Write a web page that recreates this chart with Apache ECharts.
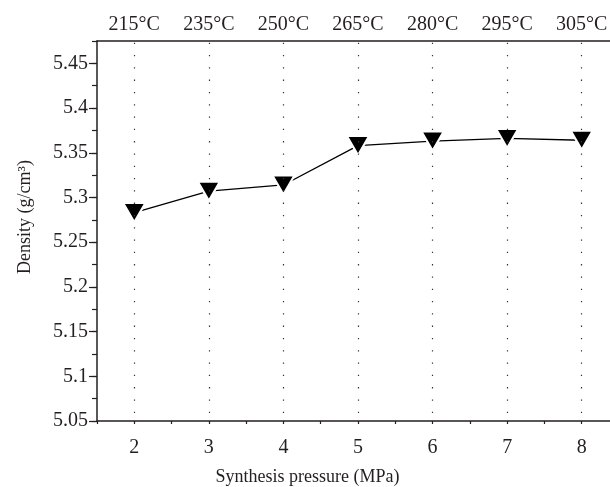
<!DOCTYPE html>
<html lang="en">
<head>
<meta charset="UTF-8">
<title>Density vs synthesis pressure</title>
<script src="https://cdn.jsdelivr.net/npm/echarts@6/dist/echarts.min.js"></script>
<style>
  html, body { margin: 0; padding: 0; background: #fff; }
  #main { width: 610px; height: 487px; }
</style>
</head>
<body>
<div id="main"></div>
<script>
// data
var pressures = [2, 3, 4, 5, 6, 7, 8];
var temperatures = ['215°C', '235°C', '250°C', '265°C', '280°C', '295°C', '305°C'];
var densities = [5.283, 5.307, 5.314, 5.358, 5.363, 5.366, 5.364];

var ink = '#231f20';
var font = 'Liberation Serif';

var points = [];
for (var i = 0; i < pressures.length; i++) {
  points.push([pressures[i], densities[i]]);
}
var guides = pressures.map(function (p) { return { xAxis: p }; });

var chart = echarts.init(document.getElementById('main'));
var option = {
  animation: false,
  // plot runs past the right edge of the picture (8.5 sits off-canvas)
  grid: { left: 97, width: 522, top: 41, bottom: 66, outerBoundsMode: 'none' },
  xAxis: [{
    // value axis carrying the series, half-step short ticks
    type: 'value', position: 'bottom', min: 1.5, max: 8.5, interval: 0.5,
    axisLine: { lineStyle: { color: ink, width: 1.5 } },
    axisTick: { length: 3, lineStyle: { color: ink, width: 1.2 } },
    axisLabel: { show: false },
    splitLine: { show: false }
  }, {
    // integer ticks + labels
    type: 'category', position: 'bottom', data: pressures.map(String),
    boundaryGap: true,
    axisLine: { show: false },
    axisTick: { alignWithLabel: true, length: 6, lineStyle: { color: ink, width: 1.2 } },
    axisLabel: { color: ink, fontFamily: font, fontSize: 20, margin: 17 },
    name: 'Synthesis pressure (MPa)', nameLocation: 'middle', nameGap: 47,
    nameTextStyle: { color: ink, fontFamily: font, fontSize: 18, padding: [0, 101, 0, 0] }
  }, {
    // temperatures on top
    type: 'category', position: 'top', data: temperatures,
    boundaryGap: true,
    axisLine: { lineStyle: { color: ink, width: 1.5 } },
    axisTick: { show: false },
    axisLabel: { color: ink, fontFamily: font, fontSize: 20, margin: 6 }
  }],
  yAxis: [{
    type: 'value', position: 'left', min: 5.05, max: 5.475, interval: 0.05,
    axisLine: { show: true, lineStyle: { color: ink, width: 1.5 } },
    axisTick: { show: true, length: 8, lineStyle: { color: ink, width: 1.2 } },
    axisLabel: { color: ink, fontFamily: font, fontSize: 20, margin: 9, showMaxLabel: false },
    splitLine: { show: false },
    name: 'Density (g/cm³)', nameLocation: 'middle', nameGap: 63,
    nameTextStyle: { color: ink, fontFamily: font, fontSize: 18, padding: [0, 0, 0, 28] }
  }, {
    type: 'value', position: 'left', min: 5.05, max: 5.475, interval: 0.025,
    axisLine: { show: false },
    axisTick: { show: true, length: 5, lineStyle: { color: ink, width: 1.2 } },
    axisLabel: { show: false },
    splitLine: { show: false }
  }],
  series: [{
    type: 'line',
    xAxisIndex: 0, yAxisIndex: 0,
    data: points,
    symbol: 'triangle', symbolRotate: 180, symbolSize: [22, 19],
    itemStyle: { color: '#000', borderColor: '#fff', borderWidth: 2 },
    lineStyle: { color: '#000', width: 1.3 },
    markLine: {
      silent: true, symbol: 'none', label: { show: false },
      lineStyle: { color: '#333', width: 1.2, type: [1.3, 11], dashOffset: 4.3 },
      data: guides
    },
    z: 3
  }]
};
chart.setOption(option);
</script>
</body>
</html>
